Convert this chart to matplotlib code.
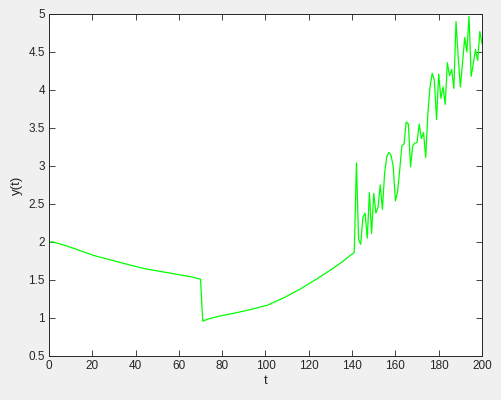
import numpy as np
import matplotlib.pyplot as plt

# smooth decay, then jump down and a smooth rise
t_smooth = [0, 2, 8, 14, 21, 29, 37, 44, 52, 60, 66, 70,
            71, 74, 78, 85, 93, 101, 108, 116, 124, 131, 136, 139, 141]
y_smooth = [2.00, 2.00, 1.95, 1.89, 1.82, 1.76, 1.70, 1.65, 1.61, 1.57, 1.54, 1.51,
            0.96, 0.99, 1.02, 1.06, 1.11, 1.17, 1.26, 1.38, 1.52, 1.65, 1.75, 1.82, 1.86]

# noisy part, one sample per unit of t (t = 142 .. 200)
t_noisy = list(range(142, 201))
y_noisy = [3.04, 2.03, 1.97, 2.33, 2.38, 2.05, 2.65, 2.11, 2.64, 2.38,
           2.46, 2.75, 2.43, 2.90, 3.12, 3.18, 3.14, 2.99, 2.54, 2.66,
           2.95, 3.27, 3.29, 3.58, 3.55, 2.99, 3.27, 3.30, 3.31, 3.55,
           3.36, 3.44, 3.11, 3.69, 4.04, 4.22, 4.13, 3.61, 4.21, 3.89,
           4.04, 3.81, 4.36, 4.19, 4.27, 4.02, 4.90, 4.44, 4.04, 4.35,
           4.69, 4.50, 4.97, 4.18, 4.35, 4.53, 4.39, 4.77, 4.61]

t = np.array(t_smooth + t_noisy)
y = np.array(y_smooth + y_noisy)

plt.rcParams['font.family'] = ['Liberation Sans', 'DejaVu Sans']
dark = '#262626'

fig = plt.figure(figsize=(5.02, 4.0), dpi=100, facecolor='#f0f0f0')
ax = fig.add_axes([49/502, 44/400, 433/502, 342/400])
ax.plot(t, y, color='#00ff00', linewidth=0.9)

ax.set_xlim(0, 200)
ax.set_ylim(0.5, 5)
ax.set_xticks(np.arange(0, 201, 20))
ax.set_yticks(np.arange(0.5, 5.01, 0.5))
ax.set_yticklabels(['0.5', '1', '1.5', '2', '2.5', '3', '3.5', '4', '4.5', '5'])
ax.tick_params(direction='in', top=True, right=True, length=4, width=0.6,
               labelsize=8.5, colors=dark, pad=3)
for s in ax.spines.values():
    s.set_color(dark)
    s.set_linewidth(0.7)
ax.set_xlabel('t', fontsize=9.5, color=dark, labelpad=2)
ax.set_ylabel('y(t)', fontsize=9.5, color=dark, labelpad=4)

fig.savefig('out.png', dpi=100, facecolor=fig.get_facecolor())
